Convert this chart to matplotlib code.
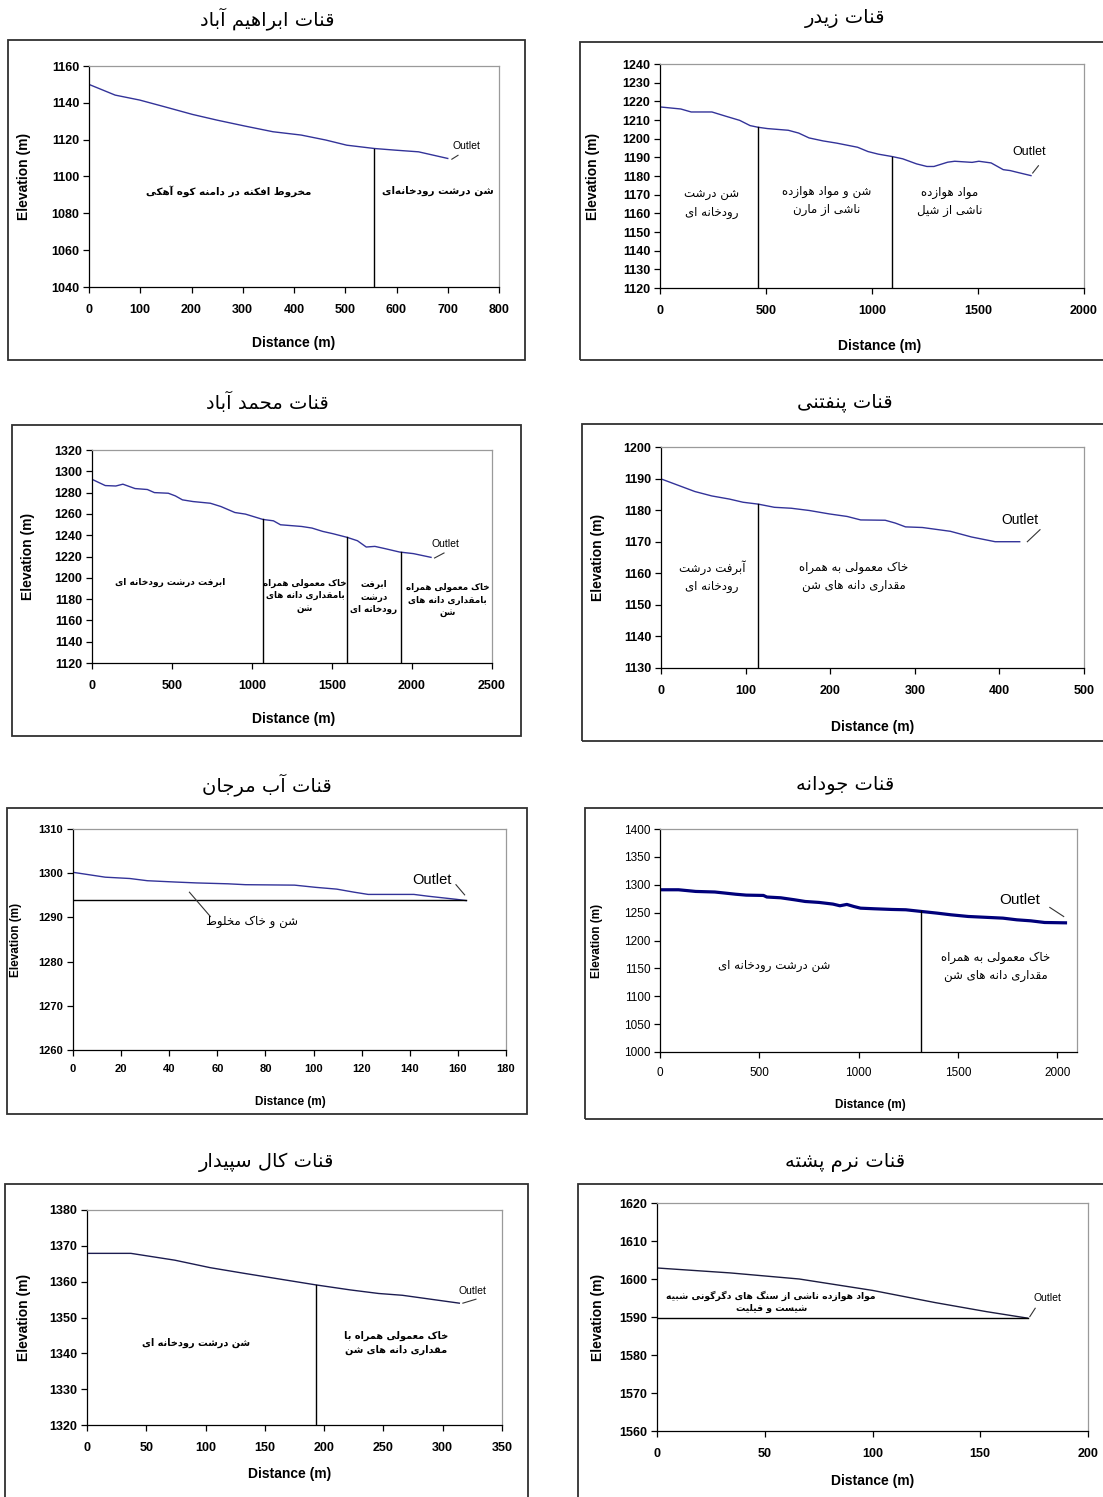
import matplotlib
matplotlib.use('Agg')
import matplotlib.pyplot as plt
from matplotlib.patches import Rectangle

# ---------------- data ----------------
titles = ['قنات ابراهیم آباد', 'قنات زیدر', 'قنات محمد آباد', 'قنات پنفتنی',
          'قنات آب مرجان', 'قنات جودانه', 'قنات کال سپیدار', 'قنات نرم پشته']

dist1 = [0, 51, 99, 147, 202, 250, 304, 359, 414, 462, 503, 557, 598, 643, 700]
elev1 = [1150, 1144.2, 1141.5, 1137.9, 1133.7, 1130.6, 1127.4, 1124.3, 1122.5,
         1119.8, 1117, 1115.2, 1114.3, 1113.4, 1109.8]
bounds1 = [557]

dist2 = [0, 98, 147, 245, 311, 376, 425, 463, 507, 605, 654, 703, 769, 834, 932,
         981, 1030, 1096, 1145, 1210, 1259, 1292, 1357, 1390, 1472, 1504, 1562,
         1619, 1652, 1684, 1750]
elev2 = [1217, 1215.9, 1214.3, 1214.3, 1212, 1209.8, 1207, 1206.1, 1205.4, 1204.5,
         1203, 1200.4, 1198.8, 1197.6, 1195.4, 1193.1, 1191.7, 1190.4, 1189.2,
         1186.5, 1185.1, 1185.1, 1187.4, 1187.9, 1187.3, 1187.9, 1187, 1183.4,
         1182.9, 1182, 1180.2]
bounds2 = [463, 1096]

dist3 = [0, 39, 83, 149, 193, 269, 346, 390, 477, 521, 565, 631, 740, 806, 893,
         959, 1068, 1134, 1178, 1310, 1375, 1441, 1506, 1594, 1659, 1714, 1768,
         1834, 1922, 2009, 2119]
elev3 = [1292.5, 1289.7, 1286.6, 1286.2, 1287.9, 1283.8, 1282.9, 1280, 1279.4,
         1276.9, 1273.2, 1271.6, 1270, 1266.9, 1261.3, 1259.8, 1254.8, 1253.5,
         1249.8, 1248.2, 1246.7, 1243.6, 1241.4, 1238, 1234.8, 1228.9, 1229.5,
         1227.3, 1224.2, 1222.7, 1219.2]
bounds3 = [1070, 1594, 1931]

dist4 = [0, 19, 40, 60, 81, 97, 115, 134, 154, 175, 199, 220, 236, 265, 277, 289,
         309, 342, 367, 395, 424]
elev4 = [1189.9, 1188, 1185.9, 1184.5, 1183.5, 1182.5, 1181.9, 1180.9, 1180.6,
         1179.9, 1178.8, 1178, 1176.9, 1176.8, 1175.9, 1174.7, 1174.5, 1173.3,
         1171.5, 1170, 1170]
bounds4 = [115]

dist5 = [0, 13.4, 23.6, 30.9, 42.6, 51.3, 64.4, 71.7, 92.1, 100.9, 109.6, 116.9,
         122.7, 141.7, 147.5, 159.2, 163.5]
elev5 = [1300.2, 1299.1, 1298.8, 1298.3, 1298, 1297.8, 1297.6, 1297.4, 1297.3,
         1296.8, 1296.4, 1295.7, 1295.2, 1295.2, 1294.8, 1294.1, 1293.8]
base5 = 1294

dist6 = [0, 93, 180, 276, 329, 381, 434, 521, 538, 608, 678, 731, 801, 871, 906,
         941, 976, 1010, 1080, 1168, 1238, 1316, 1395, 1465, 1552, 1657, 1727,
         1797, 1867, 1937, 2042]
elev6 = [1291, 1291, 1288, 1287, 1285, 1283, 1281.4, 1280.8, 1278, 1276.6, 1273,
         1270, 1268.3, 1265.3, 1262.3, 1264.7, 1261, 1258, 1256.9, 1255.7, 1255.1,
         1252.1, 1249.1, 1246.1, 1243.1, 1241.3, 1240.1, 1237.1, 1235.3, 1232.3,
         1231.7]
bounds6 = [1316]

dist7 = [0, 37, 74, 104, 133, 163, 193, 222, 246, 266, 290, 314]
elev7 = [1367.9, 1367.9, 1366, 1363.9, 1362.3, 1360.7, 1359.1, 1357.7, 1356.7,
         1356.2, 1355.1, 1354]
bounds7 = [193]

dist8 = [0, 34, 66, 100, 129, 153, 172]
elev8 = [1602.9, 1601.6, 1600, 1597, 1593.8, 1591.4, 1589.7]
base8 = 1589.7

# ---------------- Persian shaping ----------------
_AR = {
    'ا': ('\uFE8D', '\uFE8E', None, None),
    'آ': ('\uFE81', '\uFE82', None, None),
    'ب': ('\uFE8F', '\uFE90', '\uFE91', '\uFE92'),
    'پ': ('\uFB56', '\uFB57', '\uFB58', '\uFB59'),
    'ت': ('\uFE95', '\uFE96', '\uFE97', '\uFE98'),
    'ج': ('\uFE9D', '\uFE9E', '\uFE9F', '\uFEA0'),
    'ح': ('\uFEA1', '\uFEA2', '\uFEA3', '\uFEA4'),
    'خ': ('\uFEA5', '\uFEA6', '\uFEA7', '\uFEA8'),
    'د': ('\uFEA9', '\uFEAA', None, None),
    'ر': ('\uFEAD', '\uFEAE', None, None),
    'ز': ('\uFEAF', '\uFEB0', None, None),
    'س': ('\uFEB1', '\uFEB2', '\uFEB3', '\uFEB4'),
    'ش': ('\uFEB5', '\uFEB6', '\uFEB7', '\uFEB8'),
    'ط': ('\uFEC1', '\uFEC2', '\uFEC3', '\uFEC4'),
    'ع': ('\uFEC9', '\uFECA', '\uFECB', '\uFECC'),
    'ف': ('\uFED1', '\uFED2', '\uFED3', '\uFED4'),
    'ق': ('\uFED5', '\uFED6', '\uFED7', '\uFED8'),
    'ک': ('\uFB8E', '\uFB8F', '\uFB90', '\uFB91'),
    'گ': ('\uFB92', '\uFB93', '\uFB94', '\uFB95'),
    'ل': ('\uFEDD', '\uFEDE', '\uFEDF', '\uFEE0'),
    'م': ('\uFEE1', '\uFEE2', '\uFEE3', '\uFEE4'),
    'ن': ('\uFEE5', '\uFEE6', '\uFEE7', '\uFEE8'),
    'ه': ('\uFEE9', '\uFEEA', '\uFEEB', '\uFEEC'),
    'و': ('\uFEED', '\uFEEE', None, None),
    'ی': ('\uFBFC', '\uFBFD', '\uFBFE', '\uFBFF'),
}


def _dual(c):
    return c in _AR and _AR[c][2] is not None


def _shape_line(s):
    n = len(s)
    res = []
    i = 0
    while i < n:
        c = s[i]
        if c not in _AR:
            if c != '\u200c':
                res.append(c)
            i += 1
            continue
        prev = s[i - 1] if i > 0 else None
        cp = prev is not None and _dual(prev)
        if c == 'ل' and i + 1 < n and s[i + 1] in ('ا', 'آ'):
            lig = ('\uFEFB', '\uFEFC') if s[i + 1] == 'ا' else ('\uFEF5', '\uFEF6')
            res.append(lig[1] if cp else lig[0])
            i += 2
            continue
        nxt = s[i + 1] if i + 1 < n else None
        cn = _dual(c) and nxt is not None and nxt in _AR
        iso, fin, ini, med = _AR[c]
        if cp and cn:
            g = med
        elif cp:
            g = fin
        elif cn:
            g = ini
        else:
            g = iso
        res.append(g)
        i += 1
    return ''.join(reversed(res))


def fa(s):
    return '\n'.join(_shape_line(l) for l in s.split('\n'))


# ---------------- figure ----------------
W, H = 1103, 1497
fig = plt.figure(figsize=(W / 100, H / 100), dpi=100)
fig.patch.set_facecolor('white')
LAT = 'Liberation Sans'
FAF = 'DejaVu Sans'


def px_axes(l, t, r, b):
    return fig.add_axes([l / W, 1 - b / H, (r - l) / W, (b - t) / H])


def frame(l, t, r, b):
    fig.add_artist(Rectangle((l / W, 1 - b / H), (r - l) / W, (b - t) / H,
                             transform=fig.transFigure, fill=False,
                             edgecolor='#303030', lw=1.3, zorder=0))


def ftext(x, y, s, **kw):
    fig.text(x / W, 1 - y / H, s, **kw)


def panel(box, frm, title, title_xy, ylab_x, xlab_xy, x, y, xlim, ylim, xticks,
          yticks, color='#333399', lw=1.0, bounds=(), base=None, notes=(),
          outlet=None, leaders=(), tick_fs=9, tick_bold=True, lab_fs=10,
          xpad=8, note_weight='normal'):
    frame(*frm)
    ftext(title_xy[0], title_xy[1], fa(title), ha='center', va='center',
          fontsize=14, family=FAF)
    ax = px_axes(*box)
    ax.set_xlim(*xlim)
    ax.set_ylim(*ylim)
    ax.set_xticks(xticks)
    ax.set_yticks(yticks)
    fw = 'bold' if tick_bold else 'normal'
    for lab in ax.get_xticklabels() + ax.get_yticklabels():
        lab.set_fontfamily(LAT)
        lab.set_fontweight(fw)
        lab.set_fontsize(tick_fs)
    ax.tick_params(axis='x', direction='out', length=4, width=0.9, pad=xpad)
    ax.tick_params(axis='y', direction='out', length=4, width=0.9, pad=3)
    for sp in ('left', 'bottom'):
        ax.spines[sp].set_color('black')
        ax.spines[sp].set_linewidth(0.9)
    for sp in ('top', 'right'):
        ax.spines[sp].set_color('#9a9a9a')
        ax.spines[sp].set_linewidth(0.9)
    ax.plot(x, y, color=color, lw=lw, solid_joinstyle='round')
    for bx in bounds:
        # boundary reaches up to the profile line
        yy = None
        for i in range(len(x) - 1):
            if x[i] <= bx <= x[i + 1]:
                f = (bx - x[i]) / (x[i + 1] - x[i])
                yy = y[i] + f * (y[i + 1] - y[i])
                break
        ax.plot([bx, bx], [ylim[0], yy], color='black', lw=1.0)
    if base is not None:
        ax.plot([x[0], x[-1]], [base, base], color='black', lw=1.0)
    for (tx, ty, s, fs) in notes:
        ax.text(tx, ty, fa(s), ha='center', va='center', fontsize=fs,
                family=FAF, linespacing=1.5, fontweight=note_weight)
    if outlet is not None:
        ax.text(outlet[0], outlet[1], 'Outlet', ha='center', va='center',
                fontsize=outlet[2], family=LAT, clip_on=False)
    for (x0, y0, x1, y1) in leaders:
        ax.plot([x0, x1], [y0, y1], color='#333333', lw=0.8, clip_on=False)
    ftext(ylab_x, (box[1] + box[3]) / 2, 'Elevation (m)', rotation=90,
          ha='center', va='center', fontsize=lab_fs, fontweight='bold', family=LAT)
    ftext(xlab_xy[0], xlab_xy[1], 'Distance (m)', ha='center', va='center',
          fontsize=lab_fs, fontweight='bold', family=LAT)
    return ax


# Panel 1
panel((89, 66, 499, 287), (8, 40, 525, 360), titles[0], (267, 19), 24, (294, 343),
      dist1, elev1, (0, 800), (1040, 1160), range(0, 801, 100), range(1040, 1161, 20),
      bounds=bounds1, note_weight='bold',
      notes=[(273, 1092, 'مخروط افکنه در دامنه کوه آهکی', 7.5),
             (680, 1092, 'شن درشت رودخانه‌ای', 7.5)],
      outlet=(737, 1116.5, 7.5), leaders=[(708, 1109.4, 720, 1111.5)])

# Panel 2
panel((660, 64, 1084, 288), (580, 42, 1110, 360), titles[1], (845, 19), 593, (880, 346),
      dist2, elev2, (0, 2000), (1120, 1240), range(0, 2001, 500), range(1120, 1241, 10),
      bounds=bounds2,
      notes=[(242, 1165.5, 'شن درشت\nرودخانه ای', 8.5),
             (785, 1167, 'شن و مواد هوازده\nناشی از مارن', 8.5),
             (1365, 1166.5, 'مواد هوازده\nناشی از شیل', 8.5)],
      outlet=(1742, 1192.7, 9), leaders=[(1758, 1181.6, 1785, 1185.5)])

# Panel 3
panel((92, 450, 492, 663), (12, 425, 521, 736), titles[2], (267, 402), 28, (294, 719),
      dist3, elev3, (0, 2500), (1120, 1320), range(0, 2501, 500), range(1120, 1321, 20),
      bounds=bounds3, note_weight='bold',
      notes=[(488, 1196, 'ابرفت درشت رودخانه ای', 6.5),
             (1332, 1183, 'خاک معمولی همراه\nبامقداری دانه های\nشن', 6.3),
             (1762, 1182, 'ابرفت\nدرشت\nرودخانه ای', 6.3),
             (2222, 1179, 'خاک معمولی همراه\nبامقداری دانه های\nشن', 6.3)],
      outlet=(2207, 1231.5, 7.5), leaders=[(2141, 1218.6, 2200, 1223.3)])

# Panel 4
panel((661, 447, 1084, 668), (582, 424, 1110, 741), titles[3], (845, 403), 598, (873, 727),
      dist4, elev4, (0, 500), (1130, 1200), range(0, 501, 100), range(1130, 1201, 10),
      bounds=bounds4,
      notes=[(60, 1159, 'آبرفت درشت\nرودخانه ای', 8.5),
             (228, 1159, 'خاک معمولی به همراه\nمقداری دانه های شن', 8.5)],
      outlet=(424, 1177, 10), leaders=[(433, 1170, 448, 1173.8)])

# Panel 5
panel((73, 829, 506, 1050), (7, 808, 527, 1114), titles[4], (267, 785), 16, (290, 1102),
      dist5, elev5, (0, 180), (1260, 1310), range(0, 181, 20), range(1260, 1311, 10),
      base=base5, tick_fs=8, lab_fs=8.5, xpad=6,
      notes=[(74.6, 1289, 'شن و خاک مخلوط', 8.5)],
      outlet=(149.3, 1298.5, 10.5),
      leaders=[(159.2, 1297.4, 162.8, 1295.1), (48.4, 1295.7, 57.1, 1290.2)])

# Panel 6
panel((660, 829, 1077, 1052), (585, 808, 1110, 1119), titles[5], (845, 784), 597, (870, 1105),
      dist6, elev6, (0, 2100), (1000, 1400), range(0, 2001, 500), range(1000, 1401, 50),
      color='#00007a', lw=2.3, bounds=bounds6, tick_fs=8.5, tick_bold=False,
      lab_fs=8.5, xpad=7,
      notes=[(577, 1156, 'شن درشت رودخانه ای', 8.5),
             (1689, 1153, 'خاک معمولی به همراه\nمقداری دانه های شن', 8.5)],
      outlet=(1809, 1273, 11), leaders=[(1963, 1259.3, 2033, 1243)])

# Panel 7
panel((87, 1210, 502, 1425), (5, 1184, 528, 1510), titles[6], (267, 1162), 24, (290, 1474),
      dist7, elev7, (0, 350), (1320, 1380), range(0, 351, 50), range(1320, 1381, 10),
      color='#1c1c50', bounds=bounds7, note_weight='bold',
      notes=[(92, 1343, 'شن درشت رودخانه ای', 7),
             (261, 1343, 'خاک معمولی همراه با\nمقداری دانه های شن', 7)],
      outlet=(325, 1357.5, 7.5), leaders=[(317, 1354, 328, 1355.1)])

# Panel 8
panel((657, 1203, 1088, 1431), (578, 1184, 1110, 1510), titles[7], (845, 1162), 598, (873, 1481),
      dist8, elev8, (0, 200), (1560, 1620), range(0, 201, 50), range(1560, 1621, 10),
      color='#1c1c40', base=base8, note_weight='bold',
      notes=[(53, 1594, 'مواد هوازده ناشی از سنگ های دگرگونی شبیه\nشیست و فیلیت', 6.7)],
      outlet=(181, 1595, 7.5), leaders=[(173, 1590.1, 175.5, 1592.3)])

fig.savefig('out.png', dpi=100, facecolor='white')
